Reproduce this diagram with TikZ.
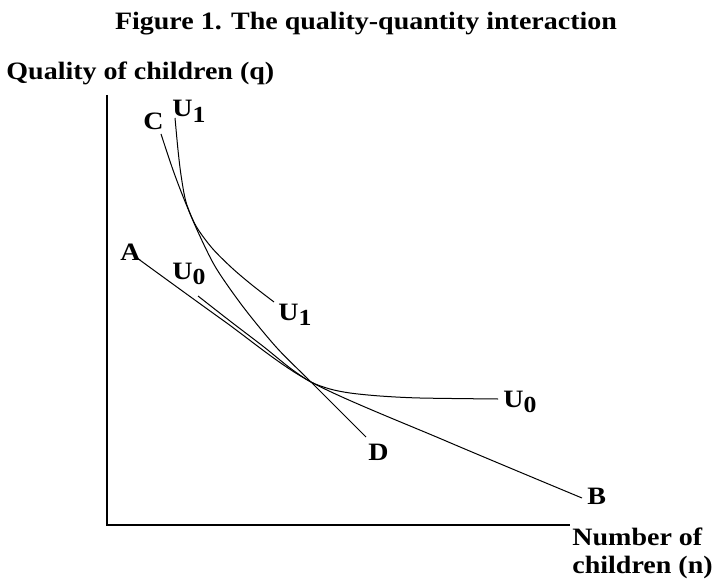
\documentclass[tikz,border=0pt]{standalone}
\usepackage{fontspec}
\setmainfont{Liberation Serif}[FakeStretch=1.12]
\usetikzlibrary{positioning}
\newcommand{\ulab}[1]{U\raisebox{-0.45ex}{\fontsize{11.5}{13}\selectfont #1}}

\begin{document}
\begin{tikzpicture}[
  x=0.5pt, y=-0.5pt,
  lbl/.style={font=\fontsize{12.5}{14}\selectfont\bfseries, inner sep=0pt},
  axis/.style={draw=black, line width=0.8pt},
  budget/.style={draw=black, line width=0.5pt, smooth, tension=0.5},
  indiff/.style={draw=black, line width=0.5pt, smooth, tension=0.5}
]
\useasboundingbox (0,0) rectangle (715,582);

% title and axis labels
\node[lbl, anchor=base] (title) at (366,30) {Figure 1. The quality-quantity interaction};
\node[lbl, anchor=base west] (qlab) at (6,80) {Quality of children (q)};
\node[lbl, anchor=north west, align=left] (nlab) at (572,527) {Number of\\children (n)};

% axes
\coordinate (ytop) at (107,95);
\coordinate (orig) at (107,525);
\coordinate (xend) at (570,525);
\draw[axis] (ytop) -- (orig) -- (xend);

% end points and the common point
\coordinate (cs) at (161,134);
\coordinate (de) at (366,437);
\coordinate (as) at (137,258);
\coordinate (be) at (582,498);
\coordinate (tan0) at (311,382);
\coordinate (u1s) at (175,118);
\coordinate (u1e) at (274,302);
\coordinate (u0s) at (198,296);
\coordinate (u0e) at (498,399);

% budget lines
\draw[budget] plot coordinates {(cs) (173,170) (184,199) (198,232) (216,268)
  (244,308) (277,348) (tan0) (de)};
\draw[budget] plot coordinates {(as) (224,321) (tan0) (446,441) (be)};

% indifference curves
\draw[indiff] plot coordinates {(u1s) (178,150) (181,175) (186,202) (196,226)
  (212,248) (232,268) (252,285) (u1e)};
\draw[indiff] plot coordinates {(u0s) (230,321) (264,347) (290,368) (tan0)
  (330,389) (350,393) (380,396) (420,398) (u0e)};

% labels
\node[lbl, anchor=base west] (lc) at (143,130) {C};
\node[lbl, anchor=base west] (lu1t) at (172,117) {\ulab{1}};
\node[lbl, anchor=base west] (la) at (120,260) {A};
\node[lbl, anchor=base west] (lu0l) at (172,279) {\ulab{0}};
\node[lbl, anchor=base west] (lu1b) at (278,320) {\ulab{1}};
\node[lbl, anchor=base west] (lu0r) at (503,407) {\ulab{0}};
\node[lbl, anchor=base west] (ld) at (368,460) {D};
\node[lbl, anchor=base west] (lb) at (587,504) {B};
\end{tikzpicture}
\end{document}
